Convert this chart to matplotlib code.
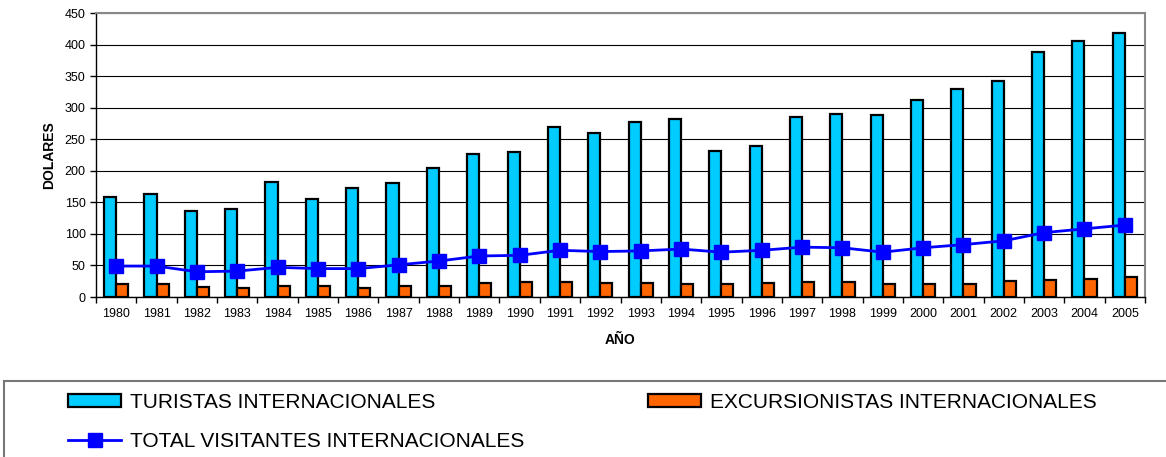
import matplotlib
matplotlib.use("Agg")
import matplotlib.pyplot as plt
import numpy as np
from matplotlib.lines import Line2D
from matplotlib.patches import Patch, Rectangle

plt.rcParams["font.family"] = ["Liberation Sans", "DejaVu Sans"]

# Data
YEARS = [str(y) for y in range(1980, 2006)]
TURISTAS = [159, 163, 136, 140, 182, 156, 172, 180, 205, 226, 229, 270, 260, 277,
            282, 231, 239, 285, 290, 289, 312, 330, 342, 388, 406, 418]
EXCURSIONISTAS = [21, 20, 16, 15, 17, 17, 15, 17, 18, 22, 23, 23, 22, 22,
                  21, 21, 22, 23, 23, 20, 21, 21, 25, 27, 29, 31]
TOTAL = [49, 49, 40, 41, 47, 45, 45, 51, 57, 65, 66, 74, 72, 73,
         76, 71, 74, 79, 78, 71, 78, 83, 89, 102, 108, 114]

CYAN = "#00CCFF"
ORANGE = "#FF6600"
BLUE = "#0000FF"

W, H = 1166, 457
fig = plt.figure(figsize=(W / 100, H / 100), dpi=100)
ax = fig.add_axes([96 / W, 1 - 297 / H, (1145 - 96) / W, (297 - 13) / H])

x = np.arange(len(YEARS))
w = 0.3
ax.bar(x - w / 2, TURISTAS, w, color=CYAN, edgecolor="black", linewidth=1.6, zorder=3)
ax.bar(x + w / 2, EXCURSIONISTAS, w, color=ORANGE, edgecolor="black", linewidth=1.6, zorder=3)
ax.plot(x, TOTAL, color=BLUE, linewidth=2, marker="s", markersize=10, zorder=4)

ax.set_xlim(-0.5, len(YEARS) - 0.5)
ax.set_ylim(0, 450)
ax.set_yticks(range(0, 451, 50))
ax.yaxis.grid(True, color="black", linewidth=0.8, zorder=0)
ax.set_axisbelow(True)

ax.set_xticks(x)
ax.set_xticklabels(YEARS, fontsize=9)
ax.set_xticks(np.arange(-0.5, len(YEARS), 1), minor=True)
ax.tick_params(axis="x", which="major", length=0, pad=8)
ax.tick_params(axis="x", which="minor", length=4, width=1)
ax.tick_params(axis="y", labelsize=9, length=4, width=1)

for side in ("top", "right"):
    ax.spines[side].set_color("#888888")
    ax.spines[side].set_linewidth(1.5)
ax.spines["left"].set_linewidth(1)
ax.spines["bottom"].set_linewidth(1)

ax.set_ylabel("DOLARES", fontsize=10, fontweight="bold", labelpad=6)
ax.set_xlabel("AÑO", fontsize=10, fontweight="bold", labelpad=9)

# legend frame running off the right and bottom edges
fig.patches.append(Rectangle((4 / W, -0.1), 1.2, 1 - 381 / H + 0.1, transform=fig.transFigure,
                             facecolor="none", edgecolor="#777777", linewidth=1.5))

handles = [
    Patch(facecolor=CYAN, edgecolor="black", linewidth=1.6),
    Line2D([], [], color=BLUE, linewidth=2, marker="s", markersize=10),
    Patch(facecolor=ORANGE, edgecolor="black", linewidth=1.6),
]
labels = ["TURISTAS INTERNACIONALES", "TOTAL VISITANTES INTERNACIONALES",
          "EXCURSIONISTAS INTERNACIONALES"]
leg = fig.legend(handles, labels, loc="upper left", bbox_to_anchor=(68 / W, 1 - 393 / H),
                 ncol=2, fontsize=15, frameon=False,
                 handlelength=2.55, handleheight=0.6, handletextpad=0.45, columnspacing=5.9,
                 labelspacing=0.95, borderpad=0, borderaxespad=0)

fig.savefig("out.png", dpi=100)
